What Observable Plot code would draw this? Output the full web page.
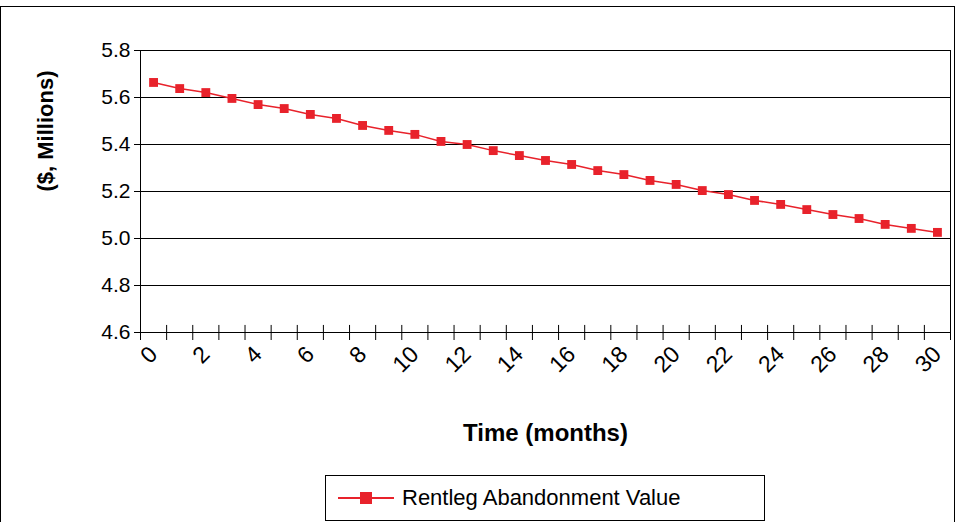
<!DOCTYPE html>
<html><head><meta charset="utf-8">
<script src="https://cdn.jsdelivr.net/npm/d3@7"></script>
<script src="https://cdn.jsdelivr.net/npm/@observablehq/plot@0.6"></script>
<style>
body{margin:0;background:#fff;font-family:Arial,"Liberation Sans",sans-serif}
#wrap{position:relative;width:957px;height:522px}
#frame{position:absolute;left:0;top:6px;width:955px;height:520px;border:1px solid #000;box-sizing:border-box}
#legend{position:absolute;left:325px;top:475px;width:440px;height:46px;border:1px solid #000;box-sizing:border-box;font-size:22px;display:flex;align-items:center}
#legend svg{margin:0 8px 0 12px}
</style></head><body>
<div id="wrap"><div id="frame"></div><div id="chart"></div>
<div id="legend"><svg width="56" height="16"><line x1="0" x2="56" y1="8" y2="8" stroke="#e8222b" stroke-width="2"/><rect x="22" y="2" width="12" height="12" fill="#e8222b"/></svg>Rentleg Abandonment Value</div></div>
<script>
const months = d3.range(0, 31);
const values = [5.664,5.638,5.621,5.596,5.570,5.553,5.528,5.511,5.481,5.460,5.443,5.413,5.400,5.374,5.353,5.332,5.315,5.289,5.272,5.247,5.230,5.204,5.187,5.162,5.145,5.123,5.102,5.085,5.060,5.043,5.026];
const data = months.map((m, i) => ({month: m, value: values[i]}));
const boundaries = d3.range(-0.5, 31, 1);
const yTicks = [4.6,4.8,5.0,5.2,5.4,5.6,5.8];

const chart = Plot.plot({
  width: 957, height: 522,
  marginLeft: 140, marginRight: 7, marginTop: 50, marginBottom: 190,
  style: {fontSize: "21px", fontFamily: "Arial, 'Liberation Sans', sans-serif", color: "#000"},
  x: {domain: [-0.5, 30.5]},
  y: {domain: [4.6, 5.8]},
  marks: [
    Plot.frame({stroke: "#000"}),
    Plot.gridY(yTicks, {stroke: "#000", strokeOpacity: 1, strokeWidth: 1}),
    Plot.axisY({ticks: yTicks, tickFormat: d3.format(".1f"), tickSize: 6, tickPadding: 4, label: null}),
    Plot.axisX({ticks: boundaries, tickFormat: () => "", tickSize: 8, label: null}),
    Plot.ruleX(boundaries, {x: d => d, y1: 4.6, y2: 4.63, stroke: "#000"}),
    Plot.axisX({ticks: d3.range(0, 31, 2), tickSize: 0, tickPadding: 18, tickRotate: -45, label: null, fontSize: 23}),
    Plot.line(data, {x: "month", y: "value", stroke: "#e8222b", strokeWidth: 1.5}),
    Plot.dot(data, {x: "month", y: "value", symbol: "square", r: 5, fill: "#e8222b"}),
    Plot.text(["Time (months)"], {frameAnchor: "bottom", dy: 108, fontWeight: "bold", fontSize: 24, text: d => d}),
    Plot.text(["($, Millions)"], {frameAnchor: "left", dx: -95, rotate: -90, fontWeight: "bold", fontSize: 22, text: d => d})
  ]
});
document.getElementById("chart").append(chart);
</script></body></html>
